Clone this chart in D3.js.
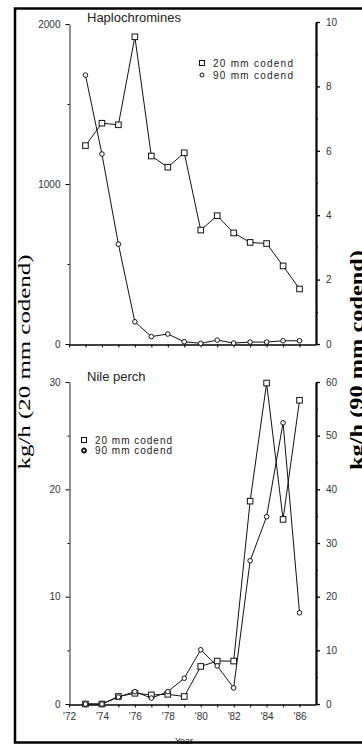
<!DOCTYPE html>
<html>
<head>
<meta charset="utf-8">
<script src="https://cdn.jsdelivr.net/npm/d3@7"></script>
<style>
  body { margin: 0; background: #fff; }
  .tick text { font-family: 'Liberation Sans', Arial, sans-serif; font-size: 10px; fill: #333; }
  .label { font-family: 'Liberation Sans', Arial, sans-serif; fill: #222; }
</style>
</head>
<body>
<svg width="362" height="745"></svg>
<script>
// years sampled, one point per year
var years = [73, 74, 75, 76, 77, 78, 79, 80, 81, 82, 83, 84, 85, 86]

// Haplochromines, kg/h
var haploSmall = [1240, 1380, 1370, 1920, 1175, 1105, 1195, 712, 802, 694, 635, 628, 488, 344] // 20 mm codend (left axis)
var haploLarge = [8.35, 5.9, 3.1, 0.69, 0.23, 0.31, 0.07, 0.02, 0.12, 0.03, 0.06, 0.06, 0.1, 0.1] // 90 mm codend (right axis)

// Nile perch, kg/h
var percheSmall = [0, 0, 0.7, 1.0, 0.85, 0.9, 0.7, 3.5, 4.0, 4.0, 18.9, 29.9, 17.2, 28.3] // 20 mm codend (left axis)
var percheLarge = [0, 0, 1.3, 2.3, 1.1, 2.3, 4.8, 10.1, 7.1, 3.0, 26.7, 34.9, 52.4, 17.0] // 90 mm codend (right axis)

// tick labels
var yearTicks = [72, 74, 76, 78, 80, 82, 84, 86]
var yearLabels = ["'72", "'74", "'76", "'78", "'80", "'82", "'84", "'86"]
var haploLeftTicks = [0, 1000, 2000]
var haploLeftMinor = [500, 1500]
var haploRightTicks = [0, 2, 4, 6, 8, 10]
var haploRightMinor = [1, 3, 5, 7, 9]
var percheLeftTicks = [0, 10, 20, 30]
var percheLeftMinor = [5, 15, 25]
var percheRightTicks = [0, 10, 20, 30, 40, 50, 60]
var percheRightMinor = [5, 15, 25, 35, 45, 55]

var svg = d3.select('svg')

var x = d3.scaleLinear().domain([72, 87]).range([69, 316])
var fmt = d3.format('d')

function drawPanel (opts) {
  var g = svg.append('g')

  var yL = d3.scaleLinear().domain(opts.leftDomain).range([opts.bottom, opts.topL])
  var yR = d3.scaleLinear().domain(opts.rightDomain).range([opts.bottom, opts.topR])

  // left axis
  var la = g.append('g').attr('transform', 'translate(69.5,0)')
    .call(d3.axisLeft(yL).tickValues(opts.leftTicks).tickFormat(fmt).tickSize(4).tickSizeOuter(0).tickPadding(5))
  la.select('.domain').attr('stroke', '#222')
  g.append('g').attr('transform', 'translate(69.5,0)')
    .call(d3.axisLeft(yL).tickValues(opts.leftMinor).tickSize(2).tickSizeOuter(0).tickFormat(''))
    .select('.domain').remove()

  // right axis, drawn heavier
  var ra = g.append('g').attr('transform', 'translate(316,0)')
    .call(d3.axisRight(yR).tickValues(opts.rightTicks).tickFormat(fmt).tickSize(4).tickSizeOuter(0).tickPadding(6))
  ra.select('.domain').attr('stroke-width', 2.2)
  ra.selectAll('.tick line').attr('stroke-width', 1.3)
  g.append('g').attr('transform', 'translate(316,0)')
    .call(d3.axisRight(yR).tickValues(opts.rightMinor).tickSize(2).tickSizeOuter(0).tickFormat(''))
    .select('.domain').remove()

  // year axis
  var xa = g.append('g').attr('transform', 'translate(0,' + (opts.bottom + 0.5) + ')')
    .call(d3.axisBottom(x).tickValues(years.concat([72])).tickSize(3).tickSizeOuter(0).tickFormat(''))
  xa.select('.domain').attr('stroke-width', 1.3)
  if (opts.labels) {
    g.append('g').attr('transform', 'translate(0,' + (opts.bottom + 0.5) + ')')
      .call(d3.axisBottom(x).tickValues(yearTicks).tickSize(0).tickPadding(8)
        .tickFormat(function (d, i) { return yearLabels[i] }))
      .select('.domain').remove()
  }

  var lineL = d3.line().x(function (d, i) { return x(years[i]) }).y(function (d) { return yL(d) })
  var lineR = d3.line().x(function (d, i) { return x(years[i]) }).y(function (d) { return yR(d) })

  g.append('path').datum(opts.small).attr('d', lineL)
    .attr('fill', 'none').attr('stroke', '#111').attr('stroke-width', 1)
  g.append('path').datum(opts.large).attr('d', lineR)
    .attr('fill', 'none').attr('stroke', '#111').attr('stroke-width', 1)

  g.selectAll('.sq').data(opts.small).enter().append('rect')
    .attr('x', function (d, i) { return x(years[i]) - 2.8 })
    .attr('y', function (d) { return yL(d) - 2.8 })
    .attr('width', 5.6).attr('height', 5.6)
    .attr('fill', '#fff').attr('stroke', '#111').attr('stroke-width', 1)

  g.selectAll('.ci').data(opts.large).enter().append('circle')
    .attr('cx', function (d, i) { return x(years[i]) })
    .attr('cy', function (d) { return yR(d) })
    .attr('r', 2.3)
    .attr('fill', '#fff').attr('stroke', '#111').attr('stroke-width', 1)

  // title
  g.append('text').attr('class', 'label')
    .attr('x', 87).attr('y', opts.titleY)
    .style('font-size', '13px')
    .text(opts.title)

  // legend
  var lg = g.append('g').attr('transform', 'translate(' + opts.legendX + ',' + opts.legendY + ')')
  lg.append('rect').attr('x', -2.5).attr('y', -2.5).attr('width', 5).attr('height', 5)
    .attr('fill', '#fff').attr('stroke', '#111')
  lg.append('circle').attr('cx', 0).attr('cy', opts.legendGap).attr('r', 2)
    .attr('fill', '#fff').attr('stroke', '#111').attr('stroke-width', opts.boldDot ? 1.8 : 1)
  lg.append('text').attr('class', 'label').attr('x', 11).attr('y', 3.5)
    .style('font-size', '10px').attr('textLength', opts.legendW).text('20 mm codend')
  lg.append('text').attr('class', 'label').attr('x', 11).attr('y', opts.legendGap + 3.5)
    .style('font-size', '10px').attr('textLength', opts.legendW).text('90 mm codend')
}

drawPanel({
  title: 'Haplochromines',
  titleY: 21.5,
  bottom: 344,
  topL: 24,
  topR: 22,
  leftDomain: [0, 2000],
  rightDomain: [0, 10],
  leftTicks: haploLeftTicks,
  leftMinor: haploLeftMinor,
  rightTicks: haploRightTicks,
  rightMinor: haploRightMinor,
  small: haploSmall,
  large: haploLarge,
  legendX: 202,
  legendY: 63,
  legendGap: 12,
  legendW: 80,
  labels: false
})

drawPanel({
  title: 'Nile perch',
  titleY: 381,
  bottom: 704,
  topL: 382,
  topR: 382,
  leftDomain: [0, 30],
  rightDomain: [0, 60],
  leftTicks: percheLeftTicks,
  leftMinor: percheLeftMinor,
  rightTicks: percheRightTicks,
  rightMinor: percheRightMinor,
  small: percheSmall,
  large: percheLarge,
  legendX: 84,
  legendY: 440,
  legendGap: 10.5,
  legendW: 77,
  boldDot: true,
  labels: true
})

// axis titles
svg.append('text').attr('class', 'label')
  .attr('transform', 'translate(30,362) rotate(-90)')
  .attr('text-anchor', 'middle')
  .style('font-family', "'Liberation Serif', 'Times New Roman', serif")
  .style('font-size', '17px').style('fill', '#000')
  .attr('textLength', 215).attr('lengthAdjust', 'spacingAndGlyphs')
  .text('kg/h (20 mm codend)')

svg.append('text').attr('class', 'label')
  .attr('transform', 'translate(363,360) rotate(-90)')
  .attr('text-anchor', 'middle')
  .style('font-family', "'Liberation Serif', 'Times New Roman', serif")
  .style('font-size', '19px').style('font-weight', 'bold').style('fill', '#000')
  .attr('textLength', 220).attr('lengthAdjust', 'spacingAndGlyphs')
  .text('kg/h (90 mm codend)')

svg.append('text').attr('class', 'label')
  .attr('x', 184).attr('y', 744)
  .attr('text-anchor', 'middle')
  .style('font-size', '9px')
  .text('Year')

// outer frame
svg.append('rect')
  .attr('x', 15).attr('y', 8.5)
  .attr('width', 370).attr('height', 734)
  .attr('fill', 'none').attr('stroke', '#000').attr('stroke-width', 2.5)
</script>
</body>
</html>
